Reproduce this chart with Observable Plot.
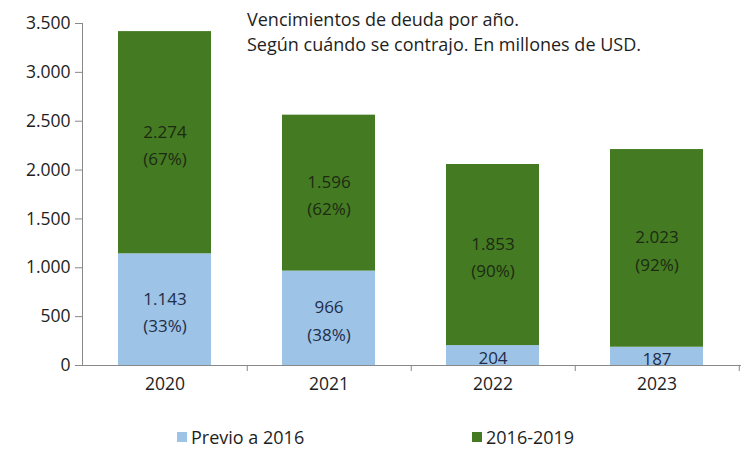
<!DOCTYPE html>
<html>
<head>
<meta charset="utf-8">
<script src="https://cdn.jsdelivr.net/npm/d3@7"></script>
<script src="https://cdn.jsdelivr.net/npm/@observablehq/plot@0.6"></script>
<style>
  html, body { margin: 0; padding: 0; background: #fff; }
  #wrap { position: relative; width: 750px; height: 452px; font-family: "Open Sans", sans-serif; color: #1e1e1e; font-weight: 500; }
  #title { position: absolute; left: 247px; top: 7px; font-size: 18px; line-height: 25px; color: #1e1e1e; }
  #legend { position: absolute; top: 424px; left: 0; width: 750px; height: 26px; font-size: 18px; }
  .item { position: absolute; top: 0; display: flex; align-items: center; height: 26px; }
  .sw { width: 10px; height: 10px; margin-right: 4px; }
</style>
</head>
<body>
<div id="wrap">
  <div id="chart"></div>
  <div id="title">Vencimientos de deuda por año.<br>Según cuándo se contrajo. En millones de USD.</div>
  <div id="legend"></div>
</div>
<script>
const years = ["2020", "2021", "2022", "2023"];
const series = ["Previo a 2016", "2016-2019"];
const previo = [1143, 966, 204, 187];
const reciente = [2274, 1596, 1853, 2023];
const pctPrevio = [33, 38, null, null];
const pctReciente = [67, 62, 90, 92];
const yTicks = [0, 500, 1000, 1500, 2000, 2500, 3000, 3500];
const colors = ["#9dc3e6", "#447a22"];

const loc = d3.formatLocale({decimal: ",", thousands: ".", grouping: [3], currency: ["$", ""]});
const fmt = loc.format(",d");

const rows = [];
years.forEach((y, i) => {
  rows.push({year: y, serie: series[0], value: previo[i], pct: pctPrevio[i]});
  rows.push({year: y, serie: series[1], value: reciente[i], pct: pctReciente[i]});
});
rows.forEach(d => { d.label = fmt(d.value) + (d.pct != null ? "\n(" + d.pct + "%)" : ""); });

const width = 750, height = 410;
const marginLeft = 82, marginRight = 10;
const step = (width - marginLeft - marginRight) / years.length;

const chart = Plot.plot({
  width, height,
  marginLeft, marginRight, marginTop: 23, marginBottom: 45,
  style: {fontFamily: "'Open Sans', sans-serif", fontSize: "17px", fontWeight: 500, color: "#1e1e1e", background: "#fff"},
  x: {domain: years, paddingInner: 0.43, paddingOuter: 0.215, label: null},
  y: {domain: [0, 3500], label: null},
  color: {domain: series, range: colors},
  marks: [
    Plot.barY(rows, Plot.stackY({x: "year", y: "value", fill: "serie", order: series})),
    Plot.text(rows, Plot.stackY({x: "year", y: "value", order: series, text: "label",
      fill: d => d.serie === series[0] ? "#1f2d4a" : "#1c2a12", fontSize: 17, fontWeight: 500, lineHeight: 1.6})),
    Plot.axisY({ticks: yTicks, tickFormat: fmt, tickSize: 7, tickPadding: 5, stroke: "#888", fontSize: 17.5, color: "#1e1e1e"}),
    Plot.frame({anchor: "left", stroke: "#888"}),
    Plot.frame({anchor: "bottom", stroke: "#888"}),
    Plot.axisX({tickSize: 6, tickFormat: () => "", dx: step / 2, stroke: "#888"}),
    Plot.axisX({tickSize: 0, tickPadding: 12, fontSize: 17.5})
  ]
});
document.getElementById("chart").appendChild(chart);

const legend = document.getElementById("legend");
const lefts = [177, 472];
series.forEach((s, i) => {
  const it = document.createElement("div");
  it.className = "item";
  it.style.left = lefts[i] + "px";
  it.innerHTML = `<div class="sw" style="background:${colors[i]}"></div><span>${s}</span>`;
  legend.appendChild(it);
});
</script>
</body>
</html>
